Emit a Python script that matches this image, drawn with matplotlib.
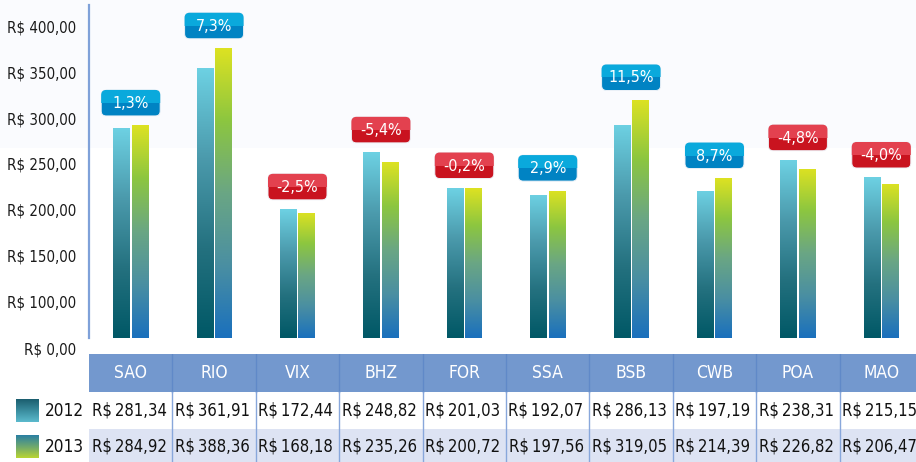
import numpy as np
import matplotlib
matplotlib.use('Agg')
import matplotlib.pyplot as plt
from matplotlib.colors import LinearSegmentedColormap
from matplotlib.patches import FancyBboxPatch, Rectangle
from matplotlib.transforms import ScaledTranslation

cities = ['SAO', 'RIO', 'VIX', 'BHZ', 'FOR', 'SSA', 'BSB', 'CWB', 'POA', 'MAO']
v2012 = [281.34, 361.91, 172.44, 248.82, 201.03, 192.07, 286.13, 197.19, 238.31, 215.15]
v2013 = [284.92, 388.36, 168.18, 235.26, 200.72, 197.56, 319.05, 214.39, 226.82, 206.47]
change = [1.3, 7.3, -2.5, -5.4, -0.2, 2.9, 11.5, 8.7, -4.8, -4.0]
years = ['2012', '2013']
ytick_vals = [0, 100, 150, 200, 250, 300, 350, 400]

plt.rcParams['font.family'] = ['DejaVu Sans']
plt.rcParams['font.stretch'] = 'condensed'

W, H = 916, 462
COL = 83.4      # px per city column
X0 = 89         # px, left edge of plot / table
BASE = 338      # px, bar baseline
PPU = 0.746     # px per R$ on the bars
YMIN, YMAX = -20, 446


def brl(v, sep=' '):
    return 'R$' + sep + f'{v:.2f}'.replace('.', ',')


def pct(v):
    return f'{v:.1f}%'.replace('.', ',')


def tick_pos(v):
    # the axis labels run on their own spacing, and 0 sits in the 50 slot
    if v == 0:
        return 48.3 - 63
    return 48.3 + (v - 100) * 1.233


fig = plt.figure(figsize=(W / 100, H / 100), dpi=100)
fig.patches.append(Rectangle((0, (H - 148) / H), 1, 148 / H, transform=fig.transFigure,
                             fc='#fafbfe', ec='none', zorder=-5))

ax_bottom = BASE - YMIN * PPU
ax = fig.add_axes([X0 / W, (H - ax_bottom) / H, 10 * COL / W, (YMAX - YMIN) * PPU / H])
ax.set_facecolor('none')

cm12 = LinearSegmentedColormap.from_list('c12', ['#005866', '#24717f', '#4b9aac', '#6dd1e3'])
cm13 = LinearSegmentedColormap.from_list('c13', ['#1a70bd', '#4a8fa2', '#6aa684', '#8cc640', '#dde222'])
grad = np.linspace(0, 1, 256).reshape(-1, 1)

x = np.arange(len(cities))
bw = 0.2
for vals, off, cm in [(v2012, -0.111, cm12), (v2013, 0.111, cm13)]:
    bars = ax.bar(x + off, vals, width=bw, color='none', edgecolor='none')
    for b in bars:
        im = ax.imshow(grad, cmap=cm, origin='lower', aspect='auto', zorder=2,
                       extent=[b.get_x(), b.get_x() + b.get_width(), 0, b.get_height()])
        im.set_clip_path(b)

# change labels above each pair
for i, c in enumerate(change):
    top = max(v2012[i], v2013[i])
    tr = ScaledTranslation(i, top, ax.transData)
    dark, light = ('#0083c3', '#0aa9dc') if c >= 0 else ('#c9131f', '#e3414f')
    box = FancyBboxPatch((-29.5, 9.5), 59, 26, boxstyle='round,pad=0,rounding_size=5',
                         transform=tr, fc=dark, ec='#eef2f8', lw=0.7, zorder=4)
    ax.add_patch(box)
    upper = Rectangle((-31, 22.5), 62, 15, transform=tr, fc=light, ec='none', zorder=5)
    ax.add_patch(upper)
    upper.set_clip_path(box)
    ax.text(0, 22, pct(c), transform=tr, ha='center', va='center', color='white',
            fontsize=11.5, zorder=6)

ax.set_xlim(-0.5, 9.5)
ax.set_ylim(YMIN, YMAX)
ax.set_xticks([])
ax.set_yticks([tick_pos(v) for v in ytick_vals], [brl(v) for v in ytick_vals])
ax.tick_params(axis='y', length=0, pad=9, labelsize=10.8, labelcolor='#1a1a1a')
for s in ['top', 'right', 'bottom']:
    ax.spines[s].set_visible(False)
ax.spines['left'].set_color('#7fa1d9')
ax.spines['left'].set_linewidth(1.6)
ax.spines['left'].set_bounds(0, YMAX)

# table under the bars
TH = H - 354
tab = fig.add_axes([X0 / W, 0, 10 * COL / W, TH / H])
tab.set_xlim(-0.5, 9.5)
tab.set_ylim(TH, 0)
tab.axis('off')
tab.add_patch(Rectangle((-0.5, 0), 10, 38, fc='#7398ce', ec='none'))
tab.add_patch(Rectangle((-0.5, 75), 10, TH - 75, fc='#dde3f3', ec='none'))
for i in range(len(cities) - 1):
    tab.plot([i + 0.5, i + 0.5], [0, 38], color='#6089c8', lw=1)
    tab.plot([i + 0.5, i + 0.5], [38, TH], color='#88a7db', lw=1)
for i, city in enumerate(cities):
    tab.text(i, 19, city, ha='center', va='center', color='white', fontsize=12.5)
    tab.text(i - 0.02, 56.5, brl(v2012[i], '\u2009'), ha='center', va='center', color='#111111', fontsize=12)
    tab.text(i - 0.02, 92, brl(v2013[i], '\u2009'), ha='center', va='center', color='#111111', fontsize=12)

# legend cells on the left of the table
leg = fig.add_axes([0, 0, X0 / W, TH / H])
leg.set_xlim(0, X0)
leg.set_ylim(TH, 0)
leg.axis('off')
leg_cm = [LinearSegmentedColormap.from_list('l12', ['#1b5e6e', '#3a8c9e', '#5cbacd']),
          LinearSegmentedColormap.from_list('l13', ['#2a7fa3', '#6ea86e', '#bad532'])]
for yr, yc, cm in zip(years, [57, 93], leg_cm):
    leg.imshow(grad, cmap=cm, origin='upper', aspect='auto', extent=[16, 39, yc + 11.5, yc - 11.5])
    leg.text(45, yc, yr, ha='left', va='center', color='#111111', fontsize=12.3)
leg.set_xlim(0, X0)
leg.set_ylim(TH, 0)

fig.savefig('out.png', dpi=100)
